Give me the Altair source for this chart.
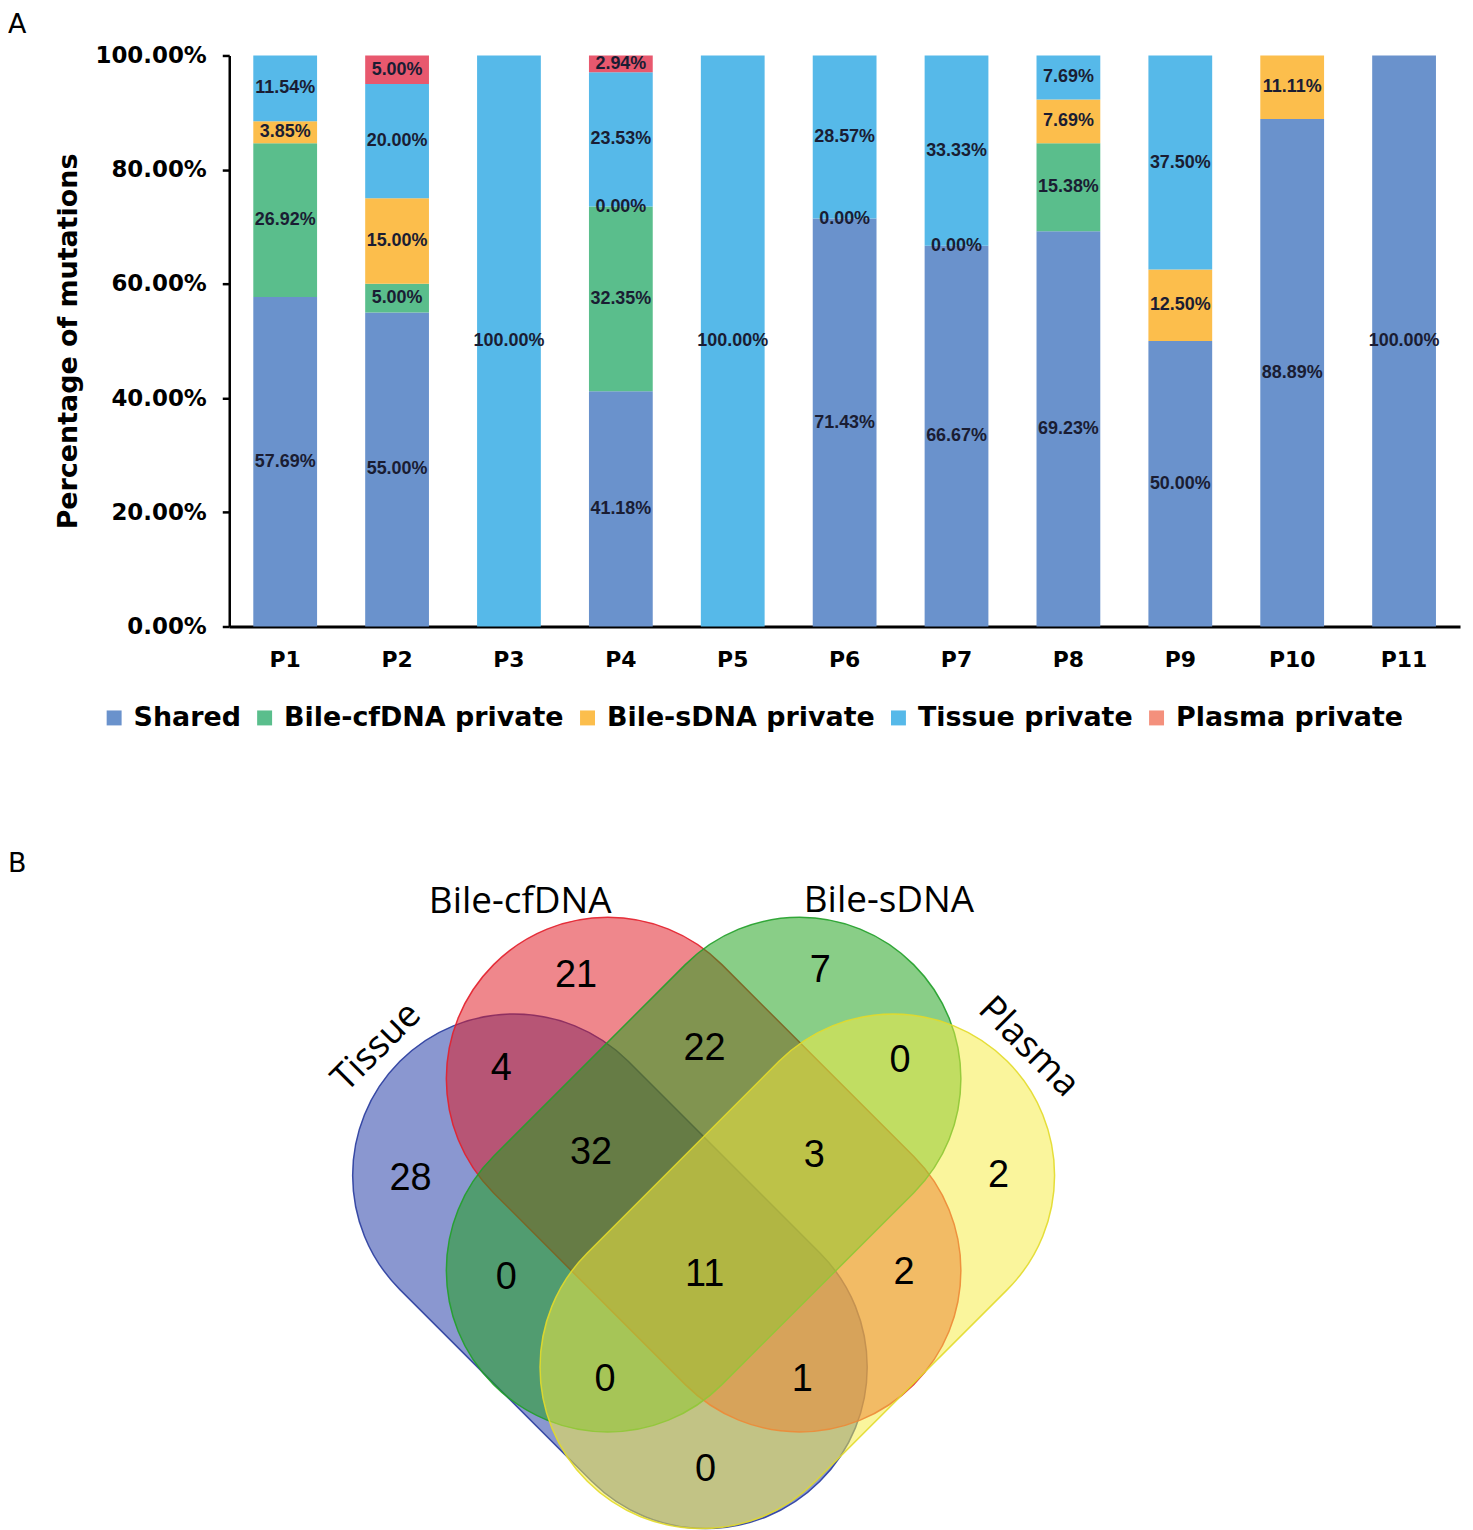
import altair as alt
import pandas as pd

# ---------------- Panel A data ----------------
patients = ["P1", "P2", "P3", "P4", "P5", "P6", "P7", "P8", "P9", "P10", "P11"]
categories = ["Shared", "Bile-cfDNA private", "Bile-sDNA private", "Tissue private", "Plasma private"]
shared = [57.69, 55.00, 0, 41.18, 0, 71.43, 66.67, 69.23, 50.00, 88.89, 100.00]
cfdna = [26.92, 5.00, 0, 32.35, 0, 0, 0, 15.38, 0, 0, 0]
sdna = [3.85, 15.00, 0, 0.00, 0, 0.00, 0.00, 7.69, 12.50, 11.11, 0]
tissue = [11.54, 20.00, 100.00, 23.53, 100.00, 28.57, 33.33, 7.69, 37.50, 0, 0]
plasma = [0, 5.00, 0, 2.94, 0, 0, 0, 0, 0, 0, 0]
zero_labels = [("P4", "Bile-sDNA private"), ("P6", "Bile-sDNA private"), ("P7", "Bile-sDNA private")]
y_ticks = [0, 0.2, 0.4, 0.6, 0.8, 1.0]

bar_colors = ["#6a92cc", "#5abe8c", "#fcbe4c", "#56b9e9", "#e8586e"]
legend_colors = ["#6a92cc", "#5abe8c", "#fcbe4c", "#56b9e9", "#f4907c"]

# ---------------- Panel B data ----------------
venn_sets = ["Tissue", "Bile-cfDNA", "Bile-sDNA", "Plasma"]
venn_cx = [612, 706, 706, 800]
venn_cy = [1271, 1174, 1174, 1271]
venn_angle = [45, 45, 135, 135]
venn_fill = ["#1f37a5", "#e11923", "#1da119", "#f5eb41"]
venn_stroke = ["#2a3d9e", "#e3202c", "#22a02a", "#e2da2a"]

venn_counts = ["21", "7", "4", "22", "0", "28", "32", "3", "2", "0", "11", "2", "0", "1", "0"]
venn_count_x = [578, 823, 503, 707, 903, 412, 593, 817, 1002, 508, 707, 907, 607, 805, 708]
venn_count_y = [975, 970, 1068, 1048, 1060, 1178, 1152, 1155, 1175, 1278, 1275, 1273, 1380, 1380, 1470]

set_label_text = ["Bile-cfDNA", "Bile-sDNA", "Tissue", "Plasma"]
set_label_x = [522, 892, 378, 1032]
set_label_y = [900, 899, 1046, 1046]
set_label_angle = [0, 0, 315, 45]

# ---------------- build tables ----------------
rows = []
series = [shared, cfdna, sdna, tissue, plasma]
for i, p in enumerate(patients):
    cum = 0.0
    for c, vals, col in zip(categories, series, bar_colors):
        v = vals[i] / 100.0
        show = bool(vals[i] > 0 or (p, c) in zero_labels)
        rows.append(dict(patient=p, cat=c, start=cum, end=cum + v, mid=cum + v / 2,
                         pct=v, show=show, fillc=col))
        cum += v
df = pd.DataFrame(rows)

FONT_B = "DejaVu Sans"

x_enc = alt.X(
    "patient:N", sort=patients,
    scale=alt.Scale(paddingInner=0.43, paddingOuter=0.215),
    axis=alt.Axis(title=None, labelAngle=0, ticks=False, labelFont=FONT_B,
                  labelFontWeight="bold", labelFontSize=22, labelColor="black",
                  labelPadding=23, domainColor="black", domainWidth=3),
)
y_scale = alt.Scale(domain=[0, 1], nice=False)
y_axis = alt.Axis(values=y_ticks, format=".2%", title="Percentage of mutations",
                  titleFont=FONT_B, titleFontSize=27, titleFontWeight="bold",
                  titleColor="black", titlePadding=12,
                  labelFont=FONT_B, labelFontSize=23, labelFontWeight="bold",
                  labelColor="black", labelPadding=16, grid=False,
                  domainColor="black", domainWidth=2.5, tickColor="black",
                  tickWidth=2.5, tickSize=7)

legend = alt.Legend(title=None, orient="none", legendX=-129, legendY=651,
                    direction="horizontal", columns=5, symbolType="square",
                    symbolSize=225, symbolStrokeWidth=0, labelFont=FONT_B,
                    labelFontWeight="bold", labelFontSize=27, labelColor="black",
                    labelOffset=6, columnPadding=10, labelLimit=500)

bars = alt.Chart(df).transform_filter("datum.pct > 0").mark_bar().encode(
    x=x_enc,
    y=alt.Y("start:Q", scale=y_scale, axis=y_axis),
    y2="end:Q",
    fill=alt.Fill("fillc:N", scale=None),
)

legend_layer = alt.Chart(df).transform_filter("false").mark_square(
    size=225, opacity=1, filled=True
).encode(
    color=alt.Color("cat:N", scale=alt.Scale(domain=categories, range=legend_colors),
                    legend=legend, sort=categories),
)

labels = alt.Chart(df).transform_filter("datum.show").mark_text(
    font="Liberation Sans", fontWeight="bold", fontSize=18, color="#1a1d33", baseline="middle"
).encode(
    x=alt.X("patient:N", sort=patients),
    y=alt.Y("mid:Q", scale=y_scale),
    text=alt.Text("pct:Q", format=".2%"),
)

panel_a = alt.Chart(pd.DataFrame({"t": ["A"]})).mark_text(
    font=FONT_B, fontSize=27, align="left", baseline="alphabetic", color="black"
).encode(text="t:N", x=alt.value(-222), y=alt.value(-23))

bar_chart = alt.layer(bars, labels, legend_layer, panel_a).properties(width=1235, height=573)

# ---------------- Venn ----------------
L = 298.0   # half length of capsule (px)
R = 162.0   # radius
A = 136.0   # cap centre offset
r = R / L
a = A / L
k = 0.5523 * r
path = (
    f"M{-a:.4f},{-r:.4f}"
    f"L{a:.4f},{-r:.4f}"
    f"C{a + k:.4f},{-r:.4f} {a + r:.4f},{-k:.4f} {a + r:.4f},0"
    f"C{a + r:.4f},{k:.4f} {a + k:.4f},{r:.4f} {a:.4f},{r:.4f}"
    f"L{-a:.4f},{r:.4f}"
    f"C{-a - k:.4f},{r:.4f} {-a - r:.4f},{k:.4f} {-a - r:.4f},0"
    f"C{-a - r:.4f},{-k:.4f} {-a - k:.4f},{-r:.4f} {-a:.4f},{-r:.4f}Z"
)

vdf = pd.DataFrame(dict(set=venn_sets, cx=venn_cx, cy=venn_cy, angle=venn_angle,
                        fill=venn_fill, stroke=venn_stroke, idx=list(range(4))))
cdf = pd.DataFrame(dict(t=venn_counts, x=venn_count_x, y=venn_count_y))
ldf = pd.DataFrame(dict(t=set_label_text, x=set_label_x, y=set_label_y, angle=set_label_angle))

vx = alt.Scale(domain=[230, 1465], nice=False, zero=False)
vy = alt.Scale(domain=[840, 1530], nice=False, zero=False, reverse=True)

shapes = alt.Chart(vdf).mark_point(
    shape=path, size=(2 * L) ** 2, filled=True, opacity=1, fillOpacity=0.52,
    strokeOpacity=0.9, strokeWidth=1.5
).encode(
    x=alt.X("cx:Q", scale=vx, axis=None),
    y=alt.Y("cy:Q", scale=vy, axis=None),
    fill=alt.Fill("fill:N", scale=None),
    stroke=alt.Stroke("stroke:N", scale=None),
    angle=alt.Angle("angle:Q", scale=None),
    order=alt.Order("idx:Q"),
)

nums = alt.Chart(cdf).mark_text(font="Liberation Sans", fontSize=38, color="black",
                                baseline="middle", align="center").encode(
    x=alt.X("x:Q", scale=vx, axis=None),
    y=alt.Y("y:Q", scale=vy, axis=None),
    text="t:N",
)

set_labels = alt.Chart(ldf).mark_text(font="Open Sans", fontSize=37, color="black",
                                      baseline="middle", align="center").encode(
    x=alt.X("x:Q", scale=vx, axis=None),
    y=alt.Y("y:Q", scale=vy, axis=None),
    text="t:N",
    angle=alt.Angle("angle:Q", scale=None),
)

panel_b = alt.Chart(pd.DataFrame({"t": ["B"]})).mark_text(
    font=FONT_B, fontSize=27, align="left", baseline="alphabetic", color="black"
).encode(text="t:N", x=alt.value(-222), y=alt.value(30))

venn = alt.layer(shapes, nums, set_labels, panel_b).properties(width=1235, height=690)

chart = alt.vconcat(bar_chart, venn, spacing=111).resolve_scale(
    color="independent"
).resolve_legend(color="independent").properties(
    padding={"left": 0, "top": 0, "right": 5, "bottom": 0}
).configure_view(stroke=None)

chart.save("out.html", embed_options={"renderer": "svg", "actions": False})
